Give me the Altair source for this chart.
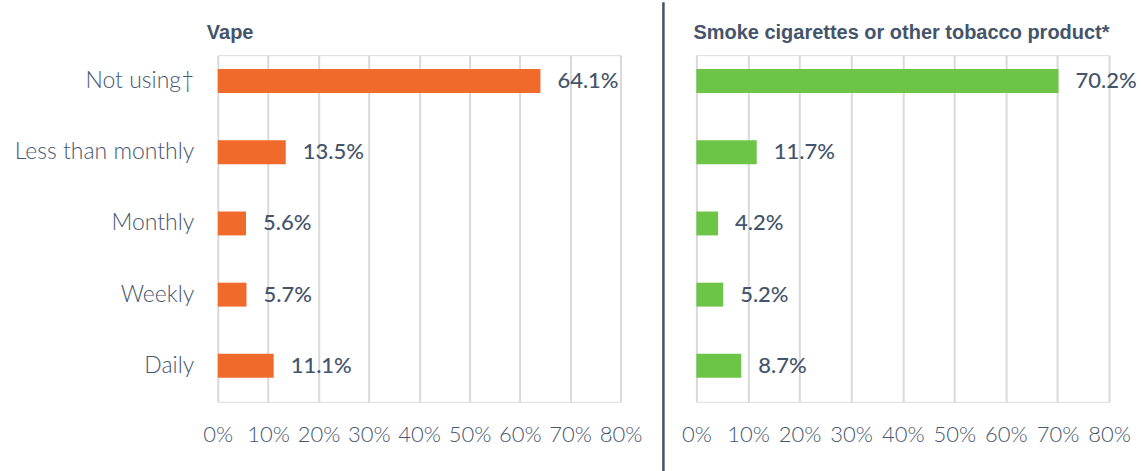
import altair as alt
import pandas as pd

categories = ["Not using†", "Less than monthly", "Monthly", "Weekly", "Daily"]
vape_values = [64.1, 13.5, 5.6, 5.7, 11.1]
smoke_values = [70.2, 11.7, 4.2, 5.2, 8.7]
tick_values = [0, 10, 20, 30, 40, 50, 60, 70, 80]
panel_titles = ["Vape", "Smoke cigarettes or other tobacco product*"]

vape_df = pd.DataFrame({"cat": categories, "value": vape_values})
smoke_df = pd.DataFrame({"cat": categories, "value": smoke_values})

SLATE = "#44546A"
LABEL_C = "#475770"
GRID_C = "#D9D9D9"
H = 347


def panel(df, color, title, width, show_y, title_dx, extra):
    xscale = alt.Scale(domain=[0, 80], nice=False)
    yscale = alt.Scale(domain=categories, paddingInner=0.664, paddingOuter=0.267, align=0.367)
    xaxis = alt.Axis(values=tick_values, labelExpr="datum.value + '%'", title=None,
                     grid=True, gridColor=GRID_C, gridWidth=2,
                     domain=False, ticks=False, labelPadding=23,
                     labelOverlap=False, labelFlush=False,
                     labelFontSize=22, labelFont="Lato", labelFontWeight=300,
                     labelColor=LABEL_C)
    if show_y:
        yaxis = alt.Axis(title=None, domain=False, ticks=False, grid=False, labelPadding=24,
                         labelFontSize=23, labelFont="Lato", labelFontWeight=300,
                         labelColor=LABEL_C, labelLimit=400)
    else:
        yaxis = None
    bars = alt.Chart(df).mark_bar(color=color).encode(
        x=alt.X("value:Q", scale=xscale, axis=xaxis),
        y=alt.Y("cat:N", sort=categories, scale=yscale, axis=yaxis),
    )
    text = bars.transform_calculate(
        label="format(datum.value, '.1f') + '%'"
    ).mark_text(align="left", baseline="middle", dx=17, fontSize=22, font="Lato",
                fontWeight=500, color=SLATE).encode(text="label:N")
    head = bars.transform_filter("datum.cat == 'Daily'").mark_text(
        align="left", baseline="alphabetic", font="Liberation Sans", fontSize=20,
        fontWeight="bold", color=SLATE
    ).encode(x=alt.value(title_dx), y=alt.value(-16.5), text=alt.value(title))
    layers = [bars, text, head]
    for kind, xv, y0, y1 in extra:
        layers.append(
            bars.transform_filter("datum.cat == 'Daily'").mark_rule(
                color=(SLATE if kind == "divider" else "white"),
                strokeWidth=(2.5 if kind == "divider" else 1),
            ).encode(x=alt.value(xv), y=alt.value(y0), y2=alt.value(y1))
        )
    return alt.layer(*layers).properties(width=width, height=H)


left = panel(vape_df, "#F06A2C", panel_titles[0], 403, True, -11,
             [("divider", 446, -53, H + 71), ("anchor", -217, 0, 1)])
right = panel(smoke_df, "#6DC547", panel_titles[1], 413, False, -3,
              [("anchor", 444, 0, 1)])

chart = alt.hconcat(left, right, spacing=76, bounds="flush").resolve_scale(
    y="independent"
).configure_view(strokeWidth=0, stroke="transparent").configure(padding=0)

chart.save("out.html", embed_options={"renderer": "svg", "actions": False})
